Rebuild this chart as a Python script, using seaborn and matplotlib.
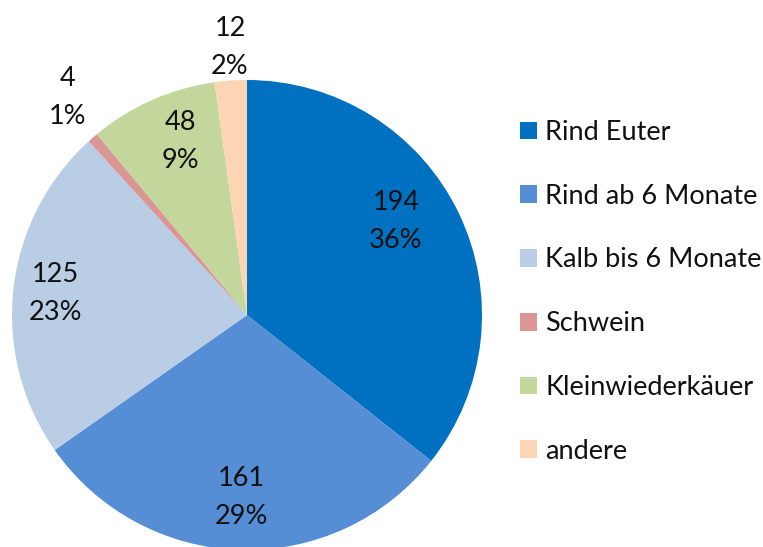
import matplotlib
matplotlib.use("Agg")
import matplotlib.pyplot as plt
import seaborn as sns

sns.set_theme(style="white")
plt.rcParams['font.family'] = ['Lato', 'DejaVu Sans']

categories = ["Rind Euter", "Rind ab 6 Monate", "Kalb bis 6 Monate", "Schwein", "Kleinwiederkäuer", "andere"]
values = [194, 161, 125, 4, 48, 12]
percents = ["36%", "29%", "23%", "1%", "9%", "2%"]
colors = ["#0070C0", "#558ED5", "#B9CDE5", "#D99694", "#C3D69B", "#FCD5B5"]

W, H = 763, 547
fig = plt.figure(figsize=(W / 100, H / 100), dpi=100)
ax = fig.add_axes([0, 0, 1, 1])

wedges, _ = ax.pie(values, colors=colors, startangle=90, counterclock=False,
                   center=(247, H - 315), radius=235, frame=True,
                   wedgeprops=dict(linewidth=0))
ax.set_xlim(0, W)
ax.set_ylim(0, H)
ax.set_aspect("equal")
ax.axis("off")

label_pos = [(396, 221), (241, 497), (55, 293), (68, 98), (180, 142), (230, 48)]
for v, p, (x, y) in zip(values, percents, label_pos):
    ax.text(x, H - y, f"{v}\n{p}", ha="center", va="center", fontsize=19.5,
            color="#111111", linespacing=1.65)

ax.legend(wedges, categories, loc="upper left", bbox_to_anchor=(520 / W, 1 - 120 / H),
          frameon=False, fontsize=19.5, labelspacing=1.43, handlelength=0.63,
          handleheight=0.63, handletextpad=0.3, borderaxespad=0, borderpad=0,
          labelcolor="#111111")

fig.savefig("out.png", dpi=100)
